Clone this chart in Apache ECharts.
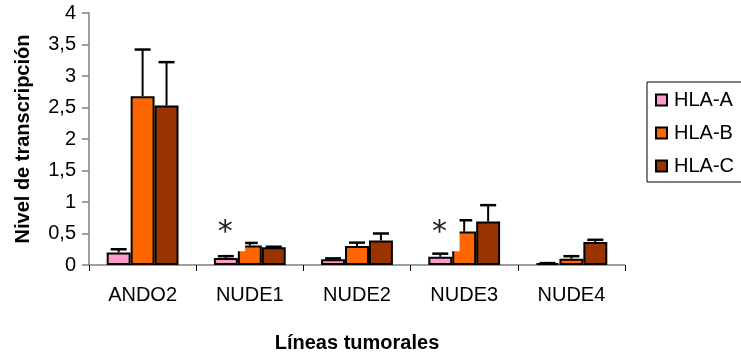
<!DOCTYPE html>
<html>
<head>
<meta charset="utf-8">
<script src="https://cdn.jsdelivr.net/npm/echarts@6/dist/echarts.min.js"></script>
<style>
  html, body { margin: 0; padding: 0; background: #fff; }
  #chart { width: 741px; height: 358px; }
</style>
</head>
<body>
<div id="chart"></div>
<script>
// Tumour cell lines on the x axis
const lines = ['ANDO2', 'NUDE1', 'NUDE2', 'NUDE3', 'NUDE4'];
const seriesNames = ['HLA-A', 'HLA-B', 'HLA-C'];

// Mean transcription level per line
const hlaA = [0.20, 0.11, 0.09, 0.13, 0.03];
const hlaB = [2.68, 0.31, 0.30, 0.53, 0.10];
const hlaC = [2.53, 0.28, 0.39, 0.69, 0.365];

// Upper error (standard deviation) per line
const hlaAErr = [0.05, 0.03, 0.015, 0.05, 0.0];
const hlaBErr = [0.74, 0.04, 0.055, 0.18, 0.04];
const hlaCErr = [0.69, 0.01, 0.11, 0.26, 0.035];

// Significance marks
const starLines = ['NUDE1', 'NUDE3'];
const starLevels = [0.6, 0.6];

const yTicks = { min: 0, max: 4, step: 0.5 };

const colors = ['#FF99CC', '#FF6600', '#993300'];
const means = [hlaA, hlaB, hlaC];
const errs = [hlaAErr, hlaBErr, hlaCErr];
const GAP = 0.33;
const FONT = '"Liberation Sans", Arial, sans-serif';

const barSeries = seriesNames.map((name, i) => ({
  name: name,
  type: 'bar',
  data: means[i],
  barGap: '0%',
  barCategoryGap: (GAP * 100) + '%',
  itemStyle: { color: colors[i], borderColor: '#000', borderWidth: 2 },
  z: 2
}));

const errData = [];
means.forEach((vals, si) => {
  vals.forEach((v, ci) => errData.push([ci, si, v, v + errs[si][ci]]));
});

// Plus-only error bars centred on each bar
const errSeries = {
  type: 'custom',
  name: 'err',
  data: errData,
  encode: { x: 0, y: [2, 3] },
  z: 3,
  silent: true,
  renderItem: function (params, api) {
    const ci = api.value(0), si = api.value(1);
    const lo = api.value(2), hi = api.value(3);
    const band = api.size([1, 0])[0];
    const bw = band * (1 - GAP) / 3;
    const p0 = api.coord([ci, lo]);
    const p1 = api.coord([ci, hi]);
    const x = p0[0] + (si - 1) * bw;
    const cap = 8;
    return {
      type: 'group',
      children: [
        { type: 'line', shape: { x1: x, y1: p0[1], x2: x, y2: p1[1] },
          style: { stroke: '#000', lineWidth: 2 } },
        { type: 'line', shape: { x1: x - cap, y1: p1[1], x2: x + cap, y2: p1[1] },
          style: { stroke: '#000', lineWidth: 2.5 } }
      ]
    };
  }
};

// Asterisk in a white text box above the HLA-A bar
const starSeries = {
  type: 'custom',
  name: 'star',
  data: starLines.map((c, i) => [c, starLevels[i]]),
  z: 10,
  silent: true,
  renderItem: function (params, api) {
    const p = api.coord([api.value(0), api.value(1)]);
    const band = api.size([1, 0])[0];
    const cx = p[0] - band * 0.23;
    const cy = p[1];
    return {
      type: 'group',
      children: [
        { type: 'rect', shape: { x: cx - 20, y: cy - 24, width: 40, height: 48 },
          style: { fill: '#fff' } },
        { type: 'text', style: { text: '*', x: cx, y: cy + 6, align: 'center',
          verticalAlign: 'middle', fontSize: 30, fontFamily: '"DejaVu Sans", sans-serif',
          fill: '#222' } }
      ]
    };
  }
};

const chart = echarts.init(document.getElementById('chart'));
chart.setOption({
  animation: false,
  backgroundColor: '#fff',
  grid: { left: 89, right: 116, top: 13, bottom: 92 },
  legend: {
    data: seriesNames,
    orient: 'vertical',
    left: 647,
    top: 82,
    padding: [8, 100, 6, 8],
    itemGap: 13,
    itemWidth: 11,
    itemHeight: 11,
    icon: 'rect',
    borderColor: '#000',
    borderWidth: 1,
    textStyle: { fontSize: 20, fontFamily: FONT, color: '#000', padding: [0, 0, 0, 2] }
  },
  xAxis: {
    type: 'category',
    data: lines,
    name: 'Líneas tumorales',
    nameLocation: 'middle',
    nameGap: 68,
    nameTextStyle: { fontSize: 20, fontWeight: 'bold', fontFamily: FONT, color: '#000' },
    axisLine: { lineStyle: { color: '#808080', width: 1.5 } },
    axisTick: { show: true, length: 6, lineStyle: { color: '#000', width: 1 } },
    axisLabel: { fontSize: 20, fontFamily: FONT, color: '#000', margin: 20 }
  },
  yAxis: {
    type: 'value',
    min: yTicks.min,
    max: yTicks.max,
    interval: yTicks.step,
    name: 'Nivel de transcripción',
    nameLocation: 'middle',
    nameGap: 56,
    nameRotate: 90,
    nameTextStyle: { fontSize: 20, fontWeight: 'bold', fontFamily: FONT, color: '#000' },
    splitLine: { show: false },
    axisLine: { show: true, lineStyle: { color: '#808080', width: 1.5 } },
    axisTick: { show: true, length: 7, lineStyle: { color: '#808080', width: 1.5 } },
    axisLabel: {
      fontSize: 20, fontFamily: FONT, color: '#000', margin: 13,
      formatter: v => String(v).replace('.', ',')
    }
  },
  series: barSeries.concat([errSeries, starSeries])
});
</script>
</body>
</html>
